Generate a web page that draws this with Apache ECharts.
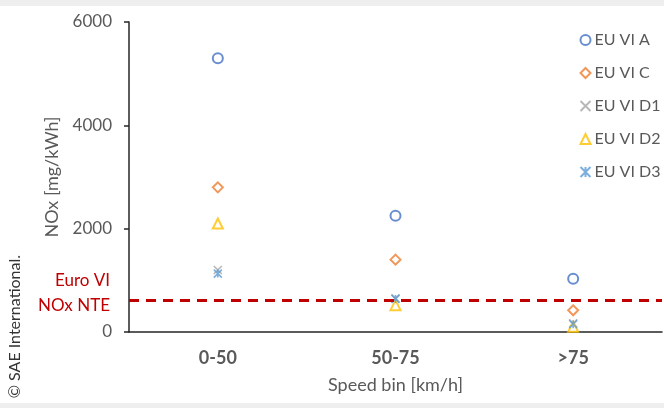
<!DOCTYPE html>
<html>
<head>
<meta charset="utf-8">
<script src="https://cdn.jsdelivr.net/npm/echarts@6/dist/echarts.min.js"></script>
<style>
  html, body { margin: 0; padding: 0; background: #fff; }
  #main { width: 664px; height: 408px; }
</style>
</head>
<body>
<div id="main"></div>
<script>
// speed bins
var speedBins = ['0-50', '50-75', '>75']
// NOx per vehicle, mg/kWh
var euViA = [5300, 2250, 1030]
var euViC = [2800, 1400, 420]
var euViD1 = [1200, 650, 170]
var euViD2 = [2100, 520, 100]
var euViD3 = [1130, 640, 150]
// NTE limit
var nteLimit = 610
var yTicks = [0, 2000, 4000, 6000]

var gray = '#595959'
var font = 'Lato, "Liberation Sans", sans-serif'

var xSym = 'path://M0,0L10,10M10,0L0,10'
var starSym = 'path://M0,0L10,10M10,0L0,10M5,0L5,10'

function pointSeries(name, data, symbol, color, size) {
  return {
    name: name,
    type: 'scatter',
    data: data,
    symbol: symbol,
    symbolSize: size,
    itemStyle: { color: symbol.indexOf('path') === 0 ? 'none' : color, borderColor: color, borderWidth: 1.6 },
    emphasis: { disabled: true }
  }
}

var myChart = echarts.init(document.getElementById('main'))

var seriesList = [
  pointSeries('EU VI A', euViA, 'emptyCircle', '#4472C4', 10),
  pointSeries('EU VI C', euViC, 'emptyDiamond', '#ED7D31', 10),
  pointSeries('EU VI D1', euViD1, xSym, '#A5A5A5', 8),
  pointSeries('EU VI D2', euViD2, 'emptyTriangle', '#FFC000', 10),
  pointSeries('EU VI D3', euViD3, starSym, '#5B9BD5', 8)
]
// dashed limit line with its label on the left
seriesList[0].markLine = {
  silent: true,
  symbol: 'none',
  lineStyle: { color: '#C00000', width: 3, type: [10, 7] },
  label: {
    position: 'start',
    formatter: 'Euro VI\nNOx NTE',
    color: '#C00000',
    fontSize: 17,
    fontFamily: font,
    lineHeight: 25,
    align: 'right',
    distance: 19,
    offset: [0, -7]
  },
  data: [{ yAxis: nteLimit }]
}

var option = {
  animation: false,
  backgroundColor: '#fff',
  graphic: [
    { type: 'rect', left: 0, top: 0, shape: { width: 664, height: 6 }, style: { fill: '#eeeeee' }, z: -10 },
    { type: 'rect', left: 0, top: 403, shape: { width: 664, height: 5 }, style: { fill: '#eeeeee' }, z: -10 },
    {
      type: 'text',
      left: 7, top: 255,
      rotation: Math.PI / 2,
      style: { text: '© SAE International.', fill: '#333', fontSize: 16, fontFamily: font }
    }
  ],
  legend: {
    orient: 'vertical',
    left: 578,
    top: 30,
    padding: 0,
    itemGap: 13,
    itemWidth: 10,
    itemHeight: 10,
    textStyle: { color: gray, fontSize: 16, lineHeight: 20, fontFamily: font, padding: [0, 0, 0, -1] },
    data: seriesList.map(function (s) { return s.name })
  },
  grid: { left: 129, right: 2, top: 22, bottom: 76 },
  xAxis: {
    type: 'category',
    data: speedBins,
    name: 'Speed bin [km/h]',
    nameLocation: 'middle',
    nameMoveOverlap: false,
    nameGap: 44,
    nameTextStyle: { color: gray, fontSize: 18, fontFamily: font },
    axisLine: { lineStyle: { color: '#262626', width: 1.5 } },
    axisTick: { inside: true, length: 6, lineStyle: { color: '#262626', width: 1.5 } },
    axisLabel: { color: gray, fontSize: 18, fontWeight: 'bold', fontFamily: font, margin: 17 },
    splitLine: { show: false }
  },
  yAxis: {
    type: 'value',
    min: yTicks[0],
    max: yTicks[yTicks.length - 1],
    interval: 2000,
    name: 'NOx [mg/kWh]',
    nameLocation: 'middle',
    nameMoveOverlap: false,
    nameGap: 68,
    nameTextStyle: { color: gray, fontSize: 18, fontFamily: font },
    axisLine: { show: true, lineStyle: { color: '#262626', width: 1.5 } },
    axisTick: { show: true, length: 5, lineStyle: { color: '#262626', width: 1.5 } },
    axisLabel: { color: gray, fontSize: 17, fontFamily: font, margin: 17, formatter: function (v) { return String(v) } },
    splitLine: { show: false }
  },
  series: seriesList
}

myChart.setOption(option)
</script>
</body>
</html>
